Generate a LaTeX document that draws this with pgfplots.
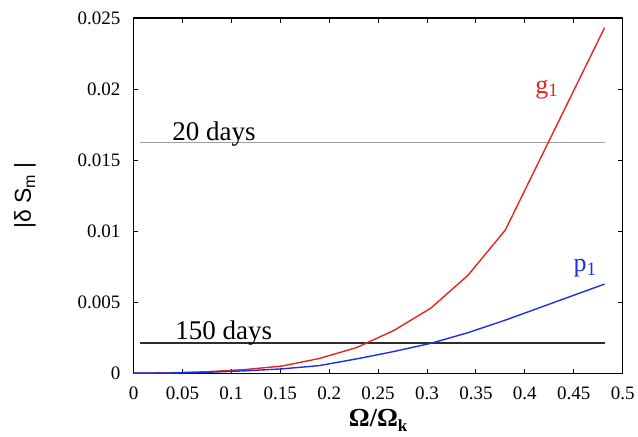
\documentclass[border=0pt]{standalone}
\usepackage{fontspec}
\setmainfont{Liberation Serif}
\newfontfamily\labsans{Liberation Sans}
\usepackage{pgfplots}
\pgfplotsset{compat=1.18}
\definecolor{gOne}{RGB}{228,38,28}
\definecolor{pOne}{RGB}{28,48,228}
\definecolor{lineGray}{RGB}{160,160,160}
\definecolor{lineDark}{RGB}{45,45,45}

\begin{document}
\begin{tikzpicture}
    \begin{axis}[
        name=ax,
        scale only axis,
        width=489pt, height=355pt,
        xmin=0, xmax=0.5,
        ymin=0, ymax=0.025,
        scaled x ticks=false, scaled y ticks=false,
        axis line style={black, line width=1.2pt},
        tick style={black, line width=1pt},
        major tick length=4.5pt,
        tick align=inside,
        xtick={0,0.05,0.1,0.15,0.2,0.25,0.3,0.35,0.4,0.45,0.5},
        xticklabels={0,0.05,0.1,0.15,0.2,0.25,0.3,0.35,0.4,0.45,0.5},
        ytick={0,0.005,0.01,0.015,0.02,0.025},
        yticklabels={0,0.005,0.01,0.015,0.02,0.025},
        /pgf/number format/assume math mode=true,
        ticklabel style={font=\fontsize{19}{20}\selectfont, inner sep=0pt},
        xticklabel style={anchor=north, yshift=-14pt},
        yticklabel style={anchor=east, xshift=-13pt},
        xlabel={\bfseries\fontsize{26}{28}\selectfont Ω/Ω\raisebox{-0.35ex}{\fontsize{17}{17}\selectfont k}},
        xlabel style={at={(axis description cs:0.5,-0.1513)}, anchor=base, inner sep=0pt},
        ylabel={\labsans\fontsize{23}{25}\selectfont |δ S\raisebox{-0.35ex}{\fontsize{16}{16}\selectfont m} |},
        ylabel style={at={(axis description cs:-0.222,0.5)}, anchor=center, inner sep=0pt},
    ]

    % reference levels
    \addplot[lineGray, line width=1.2pt] coordinates {(0.007,0.01622) (0.482,0.01622)};
    \addplot[lineDark, line width=1.6pt] coordinates {(0.007,0.00213) (0.482,0.00213)};

    % g1 mode
    \addplot[gOne, line width=1.4pt] coordinates {
        (0,0) (0.038,0.00002) (0.076,0.00010) (0.114,0.00025) (0.152,0.00050)
        (0.19,0.00103) (0.228,0.00180) (0.266,0.00300) (0.304,0.00458)
        (0.342,0.00690) (0.38,0.01007) (0.4815,0.02432)
    };

    % p1 mode
    \addplot[pOne, line width=1.4pt] coordinates {
        (0,0) (0.038,0.00001) (0.076,0.00006) (0.114,0.00016) (0.152,0.00030)
        (0.19,0.00053) (0.228,0.00100) (0.266,0.00152) (0.304,0.00210)
        (0.342,0.00285) (0.38,0.00373) (0.4815,0.00627)
    };

    \node[anchor=base west, inner sep=0pt, font=\fontsize{27}{29}\selectfont]
        at (axis cs:0.0394,0.01641) {20 days};
    \node[anchor=base west, inner sep=0pt, font=\fontsize{27}{29}\selectfont]
        at (axis cs:0.0425,0.00237) {150 days};
    \node[anchor=base west, inner sep=0pt, text=gOne, font=\fontsize{26}{28}\selectfont]
        at (axis cs:0.4105,0.0197) {g\raisebox{-0.3ex}{\fontsize{19}{19}\selectfont 1}};
    \node[anchor=base west, inner sep=0pt, text=pOne, font=\fontsize{26}{28}\selectfont]
        at (axis cs:0.4497,0.00713) {p\raisebox{-0.3ex}{\fontsize{19}{19}\selectfont 1}};
    \end{axis}
    \pgfresetboundingbox
    \path ([shift={(-133.5pt,-63pt)}]ax.south west) rectangle ([shift={(15.3pt,18pt)}]ax.north east);
\end{tikzpicture}
\end{document}
